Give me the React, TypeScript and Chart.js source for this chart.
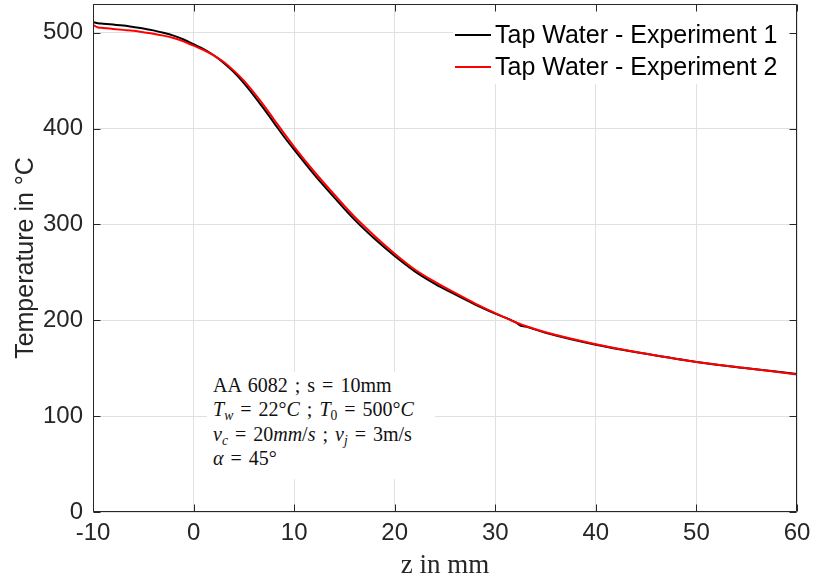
import React, { useEffect, useRef } from "react";
import { Chart, registerables } from "chart.js";

Chart.register(...registerables);

const zValues = [-10, -9.5, -9, -8, -7, -6, -5, -4, -3, -2, -1, 0, 1, 2, 3, 4, 5, 6, 7, 8, 9, 10, 12, 14, 16, 18, 20, 22, 24, 26, 28, 30, 32, 32.5, 33, 35, 40, 45, 50, 55, 60];

const experiment1 = [511, 510, 509.5, 508.5, 507.5, 506, 504.5, 502.5, 500, 497, 493, 488, 483, 476.5, 468.5, 459, 447.5, 434.5, 420.5, 406, 391.5, 378, 352, 328, 305, 285, 267, 251, 238, 227, 216.5, 207, 198, 194.5, 193.5, 187, 174.5, 165, 156.5, 150, 144];

const experiment2 = [508, 505.5, 505, 504, 503, 502, 500.5, 499, 497, 494.5, 491, 486.5, 482, 476.5, 469.5, 460.5, 450, 437.5, 424, 409.5, 395, 381, 355, 331, 308, 288, 269.5, 253, 240, 228.5, 217.5, 207.5, 198, 196, 194, 187.5, 175, 165, 156.5, 150, 143.5];

const seriesLabels = ["Tap Water - Experiment 1", "Tap Water - Experiment 2"];
const seriesColors = ["#000000", "#ff0000"];

const xTicks = [-10, 0, 10, 20, 30, 40, 50, 60];
const yTicks = [0, 100, 200, 300, 400, 500];

const xTitle = "z in mm";
const yTitle = "Temperature in \u00b0C";

const SANS = "'Liberation Sans', Arial, Helvetica, sans-serif";
const SERIF = "'Liberation Serif', 'Times New Roman', serif";
const AXIS_COLOR = "#262626";

const overlayPlugin = {
  id: "matlabOverlay",
  afterDatasetsDraw(chart: any) {
    const ctx = chart.ctx as CanvasRenderingContext2D;
    const area = chart.chartArea;
    const xs = chart.scales.x;
    const ys = chart.scales.y;
    ctx.save();

    // legend box
    ctx.fillStyle = "#ffffff";
    ctx.fillRect(453, Math.round(area.top) + 1, Math.round(area.right) - 454, 79);
    const rows = [35, 67];
    chart.data.datasets.forEach((ds: any) => {
      const y = rows[ds.legendIndex];
      ctx.strokeStyle = ds.borderColor;
      ctx.lineWidth = 2;
      ctx.beginPath();
      ctx.moveTo(455, y);
      ctx.lineTo(491, y);
      ctx.stroke();
      ctx.fillStyle = "#000000";
      ctx.font = `25px ${SANS}`;
      ctx.textAlign = "left";
      ctx.textBaseline = "middle";
      ctx.fillText(ds.label, 495, y + 1);
    });

    // frame
    const l = Math.round(area.left) + 0.5;
    const r = Math.round(area.right) - 0.5;
    const t = Math.round(area.top) + 0.5;
    const b = Math.round(area.bottom) - 0.5;
    ctx.strokeStyle = AXIS_COLOR;
    ctx.lineWidth = 1;
    ctx.beginPath();
    ctx.rect(l, t, r - l, b - t);
    ctx.stroke();
    const tl = 7;
    ctx.beginPath();
    xTicks.forEach((v) => {
      const px = Math.round(xs.getPixelForValue(v)) + 0.5;
      ctx.moveTo(px, b);
      ctx.lineTo(px, b - tl);
      ctx.moveTo(px, t);
      ctx.lineTo(px, t + tl);
    });
    yTicks.forEach((v) => {
      const py = Math.round(ys.getPixelForValue(v)) + 0.5;
      ctx.moveTo(l, py);
      ctx.lineTo(l + tl, py);
      ctx.moveTo(r, py);
      ctx.lineTo(r - tl, py);
    });
    ctx.stroke();

    // axis titles
    ctx.fillStyle = AXIS_COLOR;
    ctx.font = `27px ${SERIF}`;
    ctx.textAlign = "center";
    ctx.textBaseline = "alphabetic";
    ctx.fillText(xTitle, (area.left + area.right) / 2, 573);

    ctx.save();
    ctx.translate(26, (area.top + area.bottom) / 2);
    ctx.rotate(-Math.PI / 2);
    ctx.font = `25px ${SANS}`;
    ctx.textAlign = "center";
    ctx.textBaseline = "middle";
    ctx.fillText(yTitle, 0, 0);
    ctx.restore();

    ctx.restore();
  },
};

function Annotation() {
  const sub: React.CSSProperties = { fontSize: "0.68em", verticalAlign: "-0.3em", lineHeight: 0 };
  return (
    <div
      style={{
        position: "absolute",
        left: 207,
        top: 372,
        width: 228,
        height: 107,
        background: "#ffffff",
        fontFamily: SERIF,
        fontSize: 20,
        wordSpacing: "2px",
        lineHeight: "24.3px",
        color: "#111111",
        padding: "1px 0 0 6px",
        boxSizing: "border-box",
        whiteSpace: "nowrap",
        overflow: "hidden",
      }}
    >
      <div>AA 6082 ; s = 10mm</div>
      <div>
        <i>T</i>
        <span style={sub}><i>w</i></span> = 22°<i>C</i> ; <i>T</i>
        <span style={sub}>0</span> = 500°<i>C</i>
      </div>
      <div>
        <i>v</i>
        <span style={sub}><i>c</i></span> = 20<i>mm</i>/<i>s</i> ; <i>v</i>
        <span style={sub}><i>j</i></span> = 3m/s
      </div>
      <div>
        <i>α</i> = 45°
      </div>
    </div>
  );
}

export default function App() {
  const canvasRef = useRef<HTMLCanvasElement>(null);

  useEffect(() => {
    if (!canvasRef.current) return;
    const mk = (vals: number[]) => zValues.map((z, i) => ({ x: z, y: vals[i] }));
    const zeroPad = (axis: any) => {
      axis.paddingTop = 0;
      axis.paddingBottom = 0;
      axis.paddingLeft = 0;
      axis.paddingRight = 0;
    };
    const chart = new Chart(canvasRef.current, {
      type: "line",
      data: {
        datasets: [
          {
            label: seriesLabels[0],
            data: mk(experiment1),
            borderColor: seriesColors[0],
            backgroundColor: seriesColors[0],
            borderWidth: 2,
            pointRadius: 0,
            cubicInterpolationMode: "monotone",
            order: 1,
            legendIndex: 0,
          } as any,
          {
            label: seriesLabels[1],
            data: mk(experiment2),
            borderColor: seriesColors[1],
            backgroundColor: seriesColors[1],
            borderWidth: 2,
            pointRadius: 0,
            cubicInterpolationMode: "monotone",
            order: 0,
            legendIndex: 1,
          } as any,
        ],
      },
      options: {
        responsive: false,
        animation: false,
        devicePixelRatio: 1,
        layout: { padding: { top: 4, right: 17, left: 0, bottom: 0 } },
        plugins: {
          legend: { display: false },
          tooltip: { enabled: false },
        },
        scales: {
          x: {
            type: "linear",
            min: -10,
            max: 60,
            afterBuildTicks: (axis: any) => {
              axis.ticks = xTicks.map((v) => ({ value: v }));
            },
            afterFit: (axis: any) => {
              axis.height = 66;
              zeroPad(axis);
            },
            ticks: {
              color: AXIS_COLOR,
              font: { family: SANS, size: 24 },
              padding: 7,
              maxRotation: 0,
              autoSkip: false,
            },
            grid: { color: "#e0e0e0", lineWidth: 1, drawTicks: false },
            border: { display: false },
          },
          y: {
            type: "linear",
            min: 0,
            max: 530,
            afterBuildTicks: (axis: any) => {
              axis.ticks = yTicks.map((v) => ({ value: v }));
            },
            afterFit: (axis: any) => {
              axis.width = 93;
              zeroPad(axis);
            },
            ticks: {
              color: AXIS_COLOR,
              font: { family: SANS, size: 24 },
              padding: 10,
              autoSkip: false,
            },
            grid: { color: "#e0e0e0", lineWidth: 1, drawTicks: false },
            border: { display: false },
          },
        },
      },
      plugins: [overlayPlugin],
    });
    return () => chart.destroy();
  }, []);

  return (
    <div style={{ position: "absolute", left: 0, top: 0, width: 814, height: 578, background: "#ffffff" }}>
      <canvas ref={canvasRef} width={814} height={578} style={{ display: "block", width: 814, height: 578 }} />
      <Annotation />
    </div>
  );
}
